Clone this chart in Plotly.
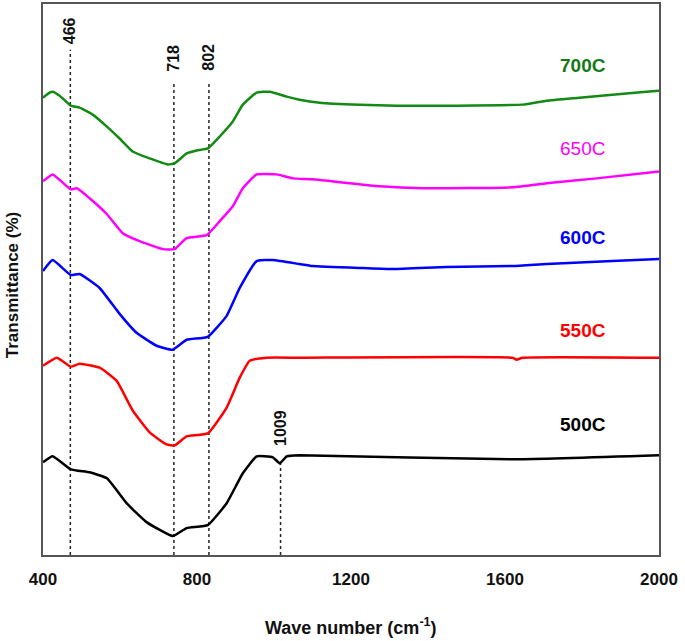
import plotly.graph_objects as go

# ---- data (wavenumber cm^-1, transmittance in arbitrary offset units) ----
x_700 = [400, 417, 425, 443, 472, 495, 529, 566, 599, 633, 677, 724, 742, 773, 799, 828, 859, 893, 919, 955, 989, 1033, 1066, 1119, 1223, 1319, 1474, 1646, 1708, 1793, 1879, 1967, 2000]
y_700 = [459, 464, 465, 461, 451, 449, 442, 430, 418, 405, 398, 392, 393, 403, 406, 408, 420, 435, 452, 464, 465, 460, 457, 454, 452, 451, 451, 452, 456, 459, 462, 465, 466]

x_650 = [400, 425, 472, 488, 521, 566, 607, 651, 711, 742, 773, 825, 859, 893, 919, 955, 1007, 1049, 1100, 1275, 1387, 1620, 1708, 1838, 2000]
y_650 = [375, 382, 367, 368, 358, 342, 323, 315, 307, 307, 318, 321, 335, 350, 368, 382, 382, 378, 377, 370, 368, 369, 373, 378, 385]

x_600 = [400, 425, 472, 495, 547, 599, 643, 695, 737, 773, 828, 877, 911, 955, 997, 1066, 1100, 1231, 1309, 1448, 1620, 1708, 1879, 2000]
y_600 = [285, 296, 281, 282, 268, 242, 223, 210, 206, 216, 219, 240, 268, 295, 296, 292, 290, 288, 287, 289, 290, 292, 295, 297]

x_550 = [400, 436, 472, 495, 547, 591, 633, 677, 721, 742, 773, 828, 877, 911, 937, 981, 1066, 1620, 1630, 1646, 2000]
y_550 = [190, 198, 189, 192, 188, 175, 145, 123, 111, 110, 119, 122, 148, 178, 195, 198, 198, 198, 196, 198, 198]

x_500 = [400, 425, 472, 521, 566, 617, 669, 737, 773, 828, 877, 919, 955, 997, 1015, 1033, 1066, 1630, 2000]
y_500 = [93, 99, 86, 83, 77, 52, 33, 19, 27, 30, 52, 82, 99, 98, 92, 99, 100, 96, 100]

series_names = ["700C", "650C", "600C", "550C", "500C"]
series_colors = ["#138a13", "#ff00ff", "#0000ff", "#ff0000", "#000000"]
label_colors = ["#137a13", "#ff00ff", "#0000ff", "#ff0000", "#000000"]
label_bold = [True, False, True, True, True]
label_x = [1802, 1802, 1802, 1802, 1802]
label_y = [491, 408, 319, 225, 131]

# marked peaks (dotted guide lines)
peak_pos = [471, 740, 831, 1017]
peak_text = ["466", "718", "802", "1009"]
peak_top = [507, 475, 475, 92]
peak_label_y = [526, 499, 500, 127]

xs = [x_700, x_650, x_600, x_550, x_500]
ys = [y_700, y_650, y_600, y_550, y_500]

FONT = "Arial, Liberation Sans, sans-serif"

fig = go.Figure()

for px, top in zip(peak_pos, peak_top):
    fig.add_trace(go.Scatter(x=[px, px], y=[0, top], mode="lines",
                             line=dict(color="#222222", width=1.5, dash="dot"),
                             hoverinfo="skip", showlegend=False))

for xv, yv, nm, col in zip(xs, ys, series_names, series_colors):
    fig.add_trace(go.Scatter(x=xv, y=yv, mode="lines", name=nm,
                             line=dict(color=col, width=2.5, shape="spline", smoothing=0.4),
                             showlegend=False))

annotations = []
for nm, col, b, lx, ly in zip(series_names, label_colors, label_bold, label_x, label_y):
    annotations.append(dict(x=lx, y=ly, xref="x", yref="y", text=nm, showarrow=False,
                            xanchor="center", yanchor="middle",
                            font=dict(family=FONT, size=19, color=col,
                                      weight="bold" if b else "normal")))
for px, t, ly in zip(peak_pos, peak_text, peak_label_y):
    annotations.append(dict(x=px, y=ly, xref="x", yref="y", text=t, showarrow=False,
                            textangle=-90, xanchor="center", yanchor="middle",
                            font=dict(family=FONT, size=16, color="#111111", weight="bold")))

annotations.append(dict(x=0.5, y=-0.13, xref="paper", yref="paper",
                        text="Wave number (cm<sup>-1</sup>)", showarrow=False,
                        xanchor="center", yanchor="middle",
                        font=dict(family=FONT, size=18, color="#111111", weight="bold")))
annotations.append(dict(x=-0.05, y=0.49, xref="paper", yref="paper",
                        text="Transmittance (%)", showarrow=False, textangle=-90,
                        xanchor="center", yanchor="middle",
                        font=dict(family=FONT, size=17, color="#111111", weight="bold")))

fig.update_layout(
    width=685, height=641,
    margin=dict(l=43, r=26, t=2, b=86),
    paper_bgcolor="white", plot_bgcolor="white",
    annotations=annotations,
    xaxis=dict(range=[400, 2000], tickvals=[400, 800, 1200, 1600, 2000],
               ticktext=["400", "800", "1200", "1600", "2000"],
               showline=True, mirror=True, linecolor="#555555", linewidth=1.5,
               showgrid=False, zeroline=False, ticks="", ticklabelstandoff=8,
               tickfont=dict(family=FONT, size=17, color="#111111", weight="bold")),
    yaxis=dict(range=[0, 553], showline=True, mirror=True, linecolor="#555555",
               linewidth=1.5, showgrid=False, zeroline=False, ticks="",
               showticklabels=False),
)

fig.write_html("out.html", config={"displayModeBar": False},
               post_script="document.body.style.margin='0';document.body.style.overflow='hidden';")
